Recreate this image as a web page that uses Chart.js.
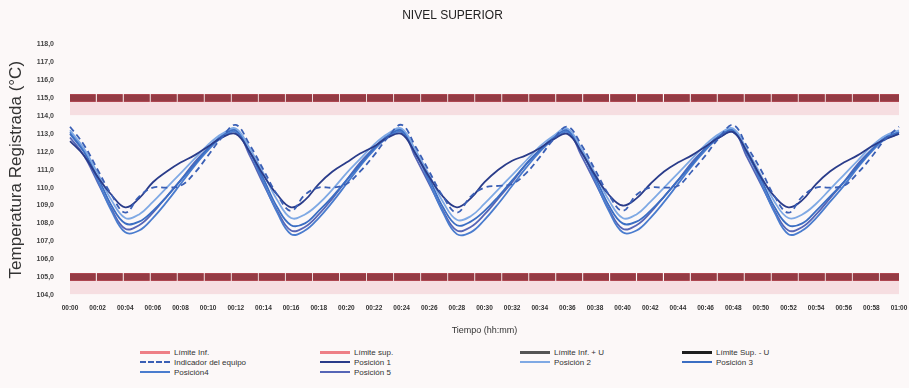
<!DOCTYPE html>
<html>
<head>
<meta charset="utf-8">
<script src="https://cdn.jsdelivr.net/npm/chart.js@4.4.1/dist/chart.umd.min.js"></script>
<style>
  body { margin: 0; background: #fff; }
  #wrap { position: relative; width: 909px; height: 388px; background: #fcf8f8; }
  #chart { position: absolute; left: 0; top: 0; }
  #legend { position: absolute; left: 0; top: 347px; width: 909px; font: 8px "Liberation Sans", Arial, sans-serif; color: #333; }
  .item { position: absolute; display: flex; align-items: center; height: 10px; }
  .sw { width: 30px; height: 0; margin-right: 4px; }
</style>
</head>
<body>
<div id="wrap">
  <canvas id="chart" width="909" height="340"></canvas>
  <div id="legend"></div>
</div>
<script>
// tiempo (hh:mm), un punto por minuto
const tiempos = [
  '00:00','00:01','00:02','00:03','00:04','00:05','00:06','00:07','00:08','00:09',
  '00:10','00:11','00:12','00:13','00:14','00:15','00:16','00:17','00:18','00:19',
  '00:20','00:21','00:22','00:23','00:24','00:25','00:26','00:27','00:28','00:29',
  '00:30','00:31','00:32','00:33','00:34','00:35','00:36','00:37','00:38','00:39',
  '00:40','00:41','00:42','00:43','00:44','00:45','00:46','00:47','00:48','00:49',
  '00:50','00:51','00:52','00:53','00:54','00:55','00:56','00:57','00:58','00:59',
  '01:00'
];

const limiteInf = 105.0;
const limiteSup = 115.0;
const limiteInfU = 105.0;
const limiteSupU = 115.0;

const indicador = [
  113.4, 112.4, 111.0, 109.6, 108.6, 109.5, 110.0, 110.0, 110.1, 110.8, 111.8, 112.8,
  113.5, 112.4, 111.0, 109.6, 108.7, 109.6, 110.0, 110.0, 110.2, 110.9, 111.8, 112.8,
  113.5, 112.3, 110.9, 109.5, 108.6, 109.5, 110.0, 110.1, 110.2, 110.8, 111.7, 112.7,
  113.4, 112.4, 111.0, 109.6, 108.7, 109.6, 110.0, 110.0, 110.1, 110.9, 111.8, 112.8,
  113.5, 112.3, 111.0, 109.5, 108.6, 109.5, 110.0, 110.0, 110.1, 110.8, 111.7, 112.7,
  113.4
];
const posicion1 = [
  112.6, 111.8, 110.6, 109.6, 108.9, 109.4, 110.3, 110.9, 111.4, 111.8, 112.3, 112.8,
  113.0, 112.0, 110.7, 109.6, 108.9, 109.3, 110.2, 110.9, 111.4, 111.9, 112.3, 112.8,
  113.0, 111.9, 110.6, 109.5, 108.9, 109.4, 110.3, 111.0, 111.5, 111.8, 112.2, 112.7,
  113.0, 112.0, 110.7, 109.6, 109.0, 109.4, 110.2, 110.9, 111.4, 111.8, 112.3, 112.8,
  113.1, 112.0, 110.6, 109.5, 108.9, 109.3, 110.2, 110.9, 111.4, 111.8, 112.3, 112.7,
  113.0
];
const posicion2 = [
  113.2, 112.2, 110.8, 109.3, 108.3, 108.5, 109.2, 110.0, 110.8, 111.6, 112.4, 113.0,
  113.3, 112.2, 110.8, 109.3, 108.3, 108.5, 109.1, 109.9, 110.8, 111.6, 112.4, 113.0,
  113.3, 112.1, 110.7, 109.2, 108.2, 108.4, 109.1, 109.9, 110.7, 111.5, 112.3, 112.9,
  113.3, 112.2, 110.8, 109.3, 108.3, 108.5, 109.2, 110.0, 110.8, 111.6, 112.4, 113.0,
  113.3, 112.1, 110.7, 109.2, 108.3, 108.5, 109.1, 109.9, 110.7, 111.5, 112.3, 112.9,
  113.2
];
const posicion3 = [
  113.0, 112.0, 110.6, 109.0, 108.0, 108.1, 108.7, 109.5, 110.4, 111.3, 112.2, 112.9,
  113.2, 112.0, 110.5, 108.9, 107.9, 108.0, 108.7, 109.5, 110.4, 111.3, 112.2, 112.9,
  113.2, 111.9, 110.5, 108.9, 107.9, 108.1, 108.7, 109.5, 110.4, 111.3, 112.1, 112.8,
  113.2, 112.0, 110.6, 109.0, 108.0, 108.1, 108.7, 109.5, 110.4, 111.3, 112.2, 112.9,
  113.2, 111.9, 110.5, 108.9, 107.9, 108.0, 108.7, 109.5, 110.3, 111.2, 112.1, 112.8,
  113.1
];
const posicion4 = [
  113.1, 112.1, 110.4, 108.7, 107.5, 107.6, 108.3, 109.2, 110.2, 111.2, 112.1, 112.8,
  113.1, 112.0, 110.3, 108.6, 107.4, 107.6, 108.3, 109.2, 110.2, 111.2, 112.1, 112.8,
  113.1, 112.0, 110.3, 108.6, 107.4, 107.5, 108.2, 109.1, 110.1, 111.1, 112.0, 112.7,
  113.1, 112.1, 110.4, 108.7, 107.5, 107.6, 108.3, 109.2, 110.2, 111.2, 112.1, 112.8,
  113.1, 112.0, 110.3, 108.6, 107.4, 107.6, 108.3, 109.2, 110.1, 111.1, 112.0, 112.7,
  113.0
];
const posicion5 = [
  112.8, 111.8, 110.3, 108.8, 107.7, 107.9, 108.6, 109.5, 110.4, 111.4, 112.2, 112.9,
  113.2, 111.8, 110.2, 108.7, 107.6, 107.8, 108.5, 109.4, 110.4, 111.4, 112.2, 112.9,
  113.2, 111.7, 110.2, 108.7, 107.6, 107.8, 108.5, 109.4, 110.3, 111.3, 112.1, 112.8,
  113.2, 111.8, 110.3, 108.8, 107.7, 107.9, 108.6, 109.5, 110.4, 111.4, 112.2, 112.9,
  113.2, 111.7, 110.2, 108.7, 107.6, 107.8, 108.5, 109.4, 110.3, 111.3, 112.1, 112.8,
  113.1
];

// franjas rosadas bajo los limites (valores de temperatura)
const franjas = [[114.05, 114.85], [104.05, 104.8]];

const constante = v => tiempos.map(() => v);

const linea = (label, data, color, width, dash, order) => ({
  label, data,
  borderColor: color,
  backgroundColor: color,
  borderWidth: width,
  borderDash: dash || [],
  pointRadius: 0,
  tension: 0.4,
  fill: false,
  order: order || 0
});

const datasets = [
  linea('Límite Inf.', constante(limiteInf), '#c8545e', 8, [26, 1], 3),
  linea('Límite sup.', constante(limiteSup), '#c8545e', 8, [26, 1], 3),
  linea('Límite Inf. + U', constante(limiteInfU), 'rgba(55,18,22,0.36)', 7, [26, 1], 2),
  linea('Límite Sup. - U', constante(limiteSupU), 'rgba(55,18,22,0.36)', 7, [26, 1], 2),
  linea('Indicador del equipo', indicador, '#3a5fb5', 1.8, [6, 4]),
  linea('Posición 1', posicion1, '#2a3c8a', 1.8),
  linea('Posición 2', posicion2, '#7fa9e4', 1.8),
  linea('Posición 3', posicion3, '#3b6ec3', 1.8),
  linea('Posición4', posicion4, '#4a7cce', 1.8),
  linea('Posición 5', posicion5, '#5665b6', 1.8)
];

// colores de la leyenda
const coloresLeyenda = ['#ee7f86', '#ee7f86', '#555555', '#1e1e1e'];

const franjasPlugin = {
  id: 'franjas',
  beforeDatasetsDraw(chart) {
    const { ctx, chartArea, scales } = chart;
    ctx.save();
    ctx.fillStyle = 'rgba(240,200,205,0.55)';
    franjas.forEach(([a, b]) => {
      const y1 = scales.y.getPixelForValue(b);
      const y2 = scales.y.getPixelForValue(a);
      ctx.fillRect(chartArea.left, y1, chartArea.right - chartArea.left, y2 - y1);
    });
    ctx.restore();
  }
};

new Chart(document.getElementById('chart').getContext('2d'), {
  type: 'line',
  data: { labels: tiempos, datasets },
  plugins: [franjasPlugin],
  options: {
    responsive: false,
    animation: false,
    layout: { padding: { left: 6, right: 10 } },
    plugins: {
      legend: { display: false },
      tooltip: { enabled: false },
      title: {
        display: true,
        text: 'NIVEL SUPERIOR',
        color: '#222',
        font: { family: 'Liberation Sans', size: 12, weight: 'normal' },
        padding: { top: 8, bottom: 22 }
      }
    },
    scales: {
      x: {
        grid: { display: false },
        border: { display: false },
        ticks: {
          autoSkip: false,
          maxRotation: 0,
          padding: 1,
          color: '#333',
          font: { family: 'Liberation Sans', size: 6.5, weight: 'bold' },
          callback: (v, i) => (i % 2 === 0 ? tiempos[i] : '')
        },
        title: {
          display: true,
          text: 'Tiempo (hh:mm)',
          color: '#333',
          font: { family: 'Liberation Sans', size: 9 },
          padding: { top: 0, bottom: 4 }
        },
        afterFit: s => { s.height = 45; }
      },
      y: {
        min: 104,
        max: 118,
        grid: { display: false },
        border: { display: false },
        ticks: {
          stepSize: 1,
          padding: 8,
          color: '#444',
          font: { family: 'Liberation Sans', size: 7, weight: 'bold' },
          callback: v => v.toFixed(1).replace('.', ',')
        },
        title: {
          display: true,
          text: 'Temperatura Registrada (°C)',
          color: '#333',
          font: { family: 'Liberation Sans', size: 17 },
          padding: { top: 0, bottom: 3 }
        },
        afterFit: s => { s.width = 64; }
      }
    }
  }
});

// leyenda en 4 columnas
const columnas = [140, 320, 520, 682];
const leyenda = document.getElementById('legend');
datasets.forEach((d, i) => {
  const el = document.createElement('div');
  el.className = 'item';
  el.style.left = columnas[i % 4] + 'px';
  el.style.top = (Math.floor(i / 4) * 10) + 'px';
  const sw = document.createElement('span');
  sw.className = 'sw';
  const w = i < 4 ? 3 : 2;
  const estilo = d.borderDash.length && i >= 4 ? 'dashed' : 'solid';
  const color = i < 4 ? coloresLeyenda[i] : d.borderColor;
  sw.style.borderTop = w + 'px ' + estilo + ' ' + color;
  el.appendChild(sw);
  el.appendChild(document.createTextNode(d.label));
  leyenda.appendChild(el);
});
</script>
</body>
</html>
